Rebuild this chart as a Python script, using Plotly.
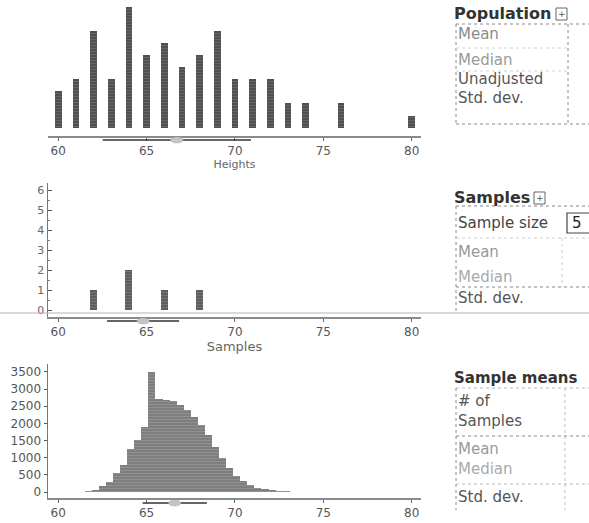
import numpy as np
import plotly.graph_objects as go

# ---------------- data ----------------
pop_heights = [60, 61, 62, 63, 64, 65, 66, 67, 68, 69, 70, 71, 72, 73, 74, 76, 80]
pop_counts = [3, 4, 8, 4, 10, 6, 7, 5, 6, 8, 4, 4, 4, 2, 2, 2, 1]

sample_values = [62, 64, 66, 68]
sample_counts = [1, 2, 1, 1]

mean_bins = [61.7, 62.1, 62.5, 62.9, 63.3, 63.7, 64.1, 64.5, 64.9, 65.3,
             65.7, 66.1, 66.5, 66.9, 67.3, 67.7, 68.1, 68.5, 68.9, 69.3,
             69.7, 70.1, 70.5, 70.9, 71.3, 71.7, 72.1, 72.5, 72.9]
mean_counts = [40, 60, 170, 300, 560, 800, 1250, 1520, 1900, 3500,
               2700, 2680, 2650, 2550, 2400, 2200, 1950, 1650, 1300, 1000,
               700, 480, 330, 200, 130, 90, 50, 40, 30]

x_ticks = [60, 65, 70, 75, 80]
sample_y_ticks = [0, 1, 2, 3, 4, 5, 6]
means_y_ticks = [0, 500, 1000, 1500, 2000, 2500, 3000, 3500]
sample_size = "5"

W, H = 589, 523
FONT = "DejaVu Sans"


def px(x):
    return x / W


def py(y):
    return 1 - y / H


def wstats(vals, wts):
    v = np.asarray(vals, float)
    w = np.asarray(wts, float)
    m = np.sum(v * w) / np.sum(w)
    s = np.sqrt(np.sum(w * (v - m) ** 2) / np.sum(w))
    return m, s


fig = go.Figure()

bar_top = dict(color="#5a5a5a",
               pattern=dict(shape="-", fgcolor="#8a8a8a", bgcolor="#505050", size=3, solidity=0.25))
bar_mid = dict(color="#666666",
               pattern=dict(shape="-", fgcolor="#999999", bgcolor="#5e5e5e", size=3, solidity=0.25))
bar_bot = dict(color="#8c8c8c",
               pattern=dict(shape="-", fgcolor="#b0b0b0", bgcolor="#7e7e7e", size=3, solidity=0.25))

fig.add_trace(go.Bar(x=pop_heights, y=pop_counts, width=0.38, marker=bar_top,
                     marker_line_width=0, xaxis="x", yaxis="y", showlegend=False))
fig.add_trace(go.Bar(x=sample_values, y=sample_counts, width=0.4, marker=bar_mid,
                     marker_line_width=0, xaxis="x2", yaxis="y2", showlegend=False))
fig.add_trace(go.Bar(x=mean_bins, y=mean_counts, width=0.4, marker=bar_bot,
                     marker_line_width=0, xaxis="x3", yaxis="y3", showlegend=False))

xdom = [px(48), px(421)]
xrange_ = [59.42, 80.53]
tickfont = dict(family=FONT, size=12, color="#555")

xcommon = dict(domain=xdom, range=xrange_, tickvals=x_ticks, showline=True,
               linecolor="#8a8a8a", linewidth=1.5, ticks="outside", ticklen=3,
               tickcolor="#666", tickfont=tickfont, showgrid=False, zeroline=False,
               fixedrange=True)

fig.update_layout(
    width=W, height=H,
    margin=dict(l=0, r=0, t=0, b=0),
    paper_bgcolor="white", plot_bgcolor="white",
    bargap=0,
    font=dict(family=FONT, color="#444"),
    xaxis=dict(**xcommon, anchor="y",
               title=dict(text="Heights", font=dict(family=FONT, size=11, color="#666"), standoff=2)),
    yaxis=dict(domain=[py(136), py(5)], range=[-0.7, 10.17], visible=False),
    xaxis2=dict(**xcommon, anchor="y2",
                title=dict(text="Samples", font=dict(family=FONT, size=13, color="#666"), standoff=3)),
    yaxis2=dict(domain=[py(317), py(183)], range=[-0.35, 6.35], tickvals=sample_y_ticks,
                showline=True, linecolor="#777", linewidth=1.5, ticks="inside", ticklen=4,
                tickcolor="#555", tickfont=dict(family=FONT, size=11, color="#666"),
                showgrid=False, zeroline=False,
                minor=dict(ticks="inside", ticklen=2, dtick=0.5, tickcolor="#777")),
    xaxis3=dict(**xcommon, anchor="y3"),
    yaxis3=dict(domain=[py(498), py(364)], range=[-170, 3730], tickvals=means_y_ticks,
                showline=True, linecolor="#777", linewidth=1.5, ticks="outside", ticklen=3,
                tickcolor="#555", tickfont=dict(family=FONT, size=12, color="#555"),
                showgrid=False, zeroline=False),
)

shapes = []
annotations = []

# mean +/- sd indicators under each axis
for (vals, wts, xref, ypix) in [(pop_heights, pop_counts, "x", 140),
                                (sample_values, sample_counts, "x2", 321),
                                (mean_bins, mean_counts, "x3", 503)]:
    m, s = wstats(vals, wts)
    shapes.append(dict(type="line", xref=xref, yref="paper", x0=m - s, x1=m + s,
                       y0=py(ypix), y1=py(ypix), line=dict(color="#333", width=1.5)))
    shapes.append(dict(type="circle", xref=xref, yref="paper", x0=m - 0.35, x1=m + 0.35,
                       y0=py(ypix + 3), y1=py(ypix - 3), fillcolor="#c4c4c4",
                       line=dict(color="#aaa", width=0.5)))

# scanned horizontal rule
shapes.append(dict(type="line", xref="paper", yref="paper", x0=0, x1=1,
                   y0=py(313), y1=py(313), line=dict(color="#b5b5b5", width=1)))


def dline(x0, y0, x1, y1, color="#888", dash="dot", width=1):
    shapes.append(dict(type="line", xref="paper", yref="paper", x0=px(x0), x1=px(x1),
                       y0=py(y0), y1=py(y1), line=dict(color=color, width=width, dash=dash)))


def label(text, x, y, size=15, color="#555", bold=False, anchor="left"):
    if bold:
        text = "<b>" + text + "</b>"
    annotations.append(dict(text=text, x=px(x), y=py(y), xref="paper", yref="paper",
                            xanchor=anchor, yanchor="middle", showarrow=False,
                            font=dict(family=FONT, size=size, color=color)))


def icon(x, y):
    shapes.append(dict(type="rect", xref="paper", yref="paper", x0=px(x), x1=px(x + 11),
                       y0=py(y + 6), y1=py(y - 6), line=dict(color="#666", width=1),
                       fillcolor="white"))
    annotations.append(dict(text="+", x=px(x + 5.5), y=py(y), xref="paper", yref="paper",
                            xanchor="center", yanchor="middle", showarrow=False,
                            font=dict(family=FONT, size=9, color="#555")))


# Population table
label("Population", 452, 13, size=16, color="#333", bold=True)
icon(556, 14)
dline(456, 24, 589, 24)
dline(456, 24, 456, 124)
dline(568, 24, 568, 124)
dline(456, 124, 589, 124)
dline(456, 48, 568, 48, color="#d0d0d0")
dline(456, 71, 568, 71, color="#d0d0d0")
label("Mean", 456, 34, color="#8a8a8a")
label("Median", 456, 60, color="#9a9a9a")
label("Unadjusted", 456, 79, color="#555")
label("Std. dev.", 456, 98, color="#555")

# Samples table
label("Samples", 452, 198, size=16, color="#333", bold=True)
icon(534, 198)
dline(456, 206, 589, 206)
dline(456, 206, 456, 313)
dline(456, 238, 589, 238, color="#d0d0d0")
dline(456, 287, 589, 287)
dline(562, 238, 562, 287, color="#d0d0d0")
shapes.append(dict(type="rect", xref="paper", yref="paper", x0=px(567), x1=px(595),
                   y0=py(233), y1=py(213), line=dict(color="#444", width=1.2)))
label("Sample size", 456, 223, color="#444")
label(sample_size, 577, 223, color="#222", anchor="center")
label("Mean", 456, 252, color="#999")
label("Median", 456, 277, color="#aaa")
label("Std. dev.", 456, 298, color="#555")

# Sample means table
label("Sample means", 452, 378, size=15, color="#333", bold=True)
dline(456, 388, 589, 388, color="#bbb")
dline(456, 388, 456, 510)
dline(565, 388, 565, 510, color="#bbb")
dline(456, 436, 589, 436)
dline(456, 484, 589, 484, color="#bbb")
label("# of", 456, 401, color="#555")
label("Samples", 456, 421, color="#555")
label("Mean", 456, 449, color="#999")
label("Median", 456, 469, color="#aaa")
label("Std. dev.", 456, 497, color="#555")

fig.update_layout(shapes=shapes, annotations=annotations)
fig.write_html("out.html",
               config={"displayModeBar": False, "staticPlot": True},
               post_script="document.body.style.margin='0';document.body.style.overflow='hidden';")
